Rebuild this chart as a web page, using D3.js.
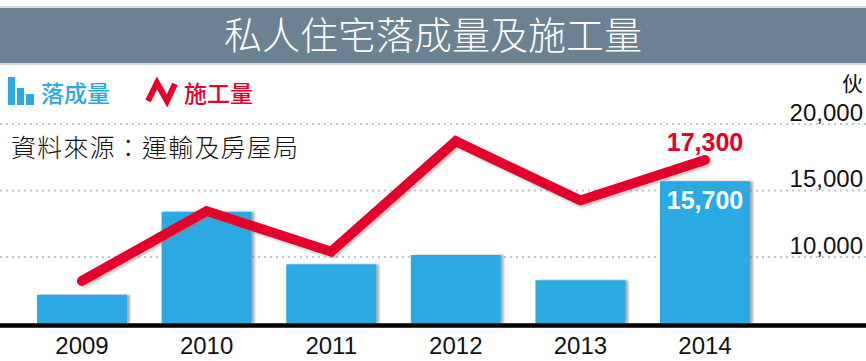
<!DOCTYPE html>
<html>
<head>
<meta charset="utf-8">
<script src="https://cdn.jsdelivr.net/npm/d3@7"></script>
<style>
  html, body { margin: 0; padding: 0; background: #fff; }
  svg { display: block; }
</style>
</head>
<body>
<svg id="chart" width="866" height="361"></svg>
<script>
const title = "私人住宅落成量及施工量";
const source = "資料來源：運輸及房屋局";
const years = ["2009", "2010", "2011", "2012", "2013", "2014"];
const completions = [7160, 13400, 9450, 10150, 8250, 15700];
const starts = [8200, 13450, 10400, 18700, 14250, 17300];
const yTicks = [10000, 15000, 20000];
const seriesNames = ["落成量", "施工量"];
const unit = "伙";
const lastCompletionLabel = "15,700";
const lastStartLabel = "17,300";

const blue = "#2aa9e2", red = "#e4002b";
const svg = d3.select("#chart");
const defs = svg.append("defs");
const f1 = defs.append("filter").attr("id", "barShadow").attr("x", "-10%").attr("y", "-10%").attr("width", "130%").attr("height", "120%");
f1.append("feDropShadow").attr("dx", 3).attr("dy", 0).attr("stdDeviation", 1).attr("flood-color", "#777").attr("flood-opacity", 0.6);
const f2 = defs.append("filter").attr("id", "lineShadow").attr("x", "-10%").attr("y", "-20%").attr("width", "130%").attr("height", "150%");
f2.append("feDropShadow").attr("dx", 2).attr("dy", 2).attr("stdDeviation", 1.2).attr("flood-color", "#888").attr("flood-opacity", 0.45);

// Title bar
svg.append("rect").attr("x", 0).attr("y", 6).attr("width", 866).attr("height", 59).attr("fill", "#d5dde2");
svg.append("rect").attr("x", 0).attr("y", 8).attr("width", 866).attr("height", 55).attr("fill", "#6a8291");
svg.append("text").attr("x", 433).attr("y", 49).attr("text-anchor", "middle")
  .attr("font-family", "'Noto Sans CJK TC', 'Noto Sans CJK SC', sans-serif")
  .attr("font-size", 38).attr("font-weight", 300).attr("fill", "#fff").text(title);

// Scales
const x = d3.scaleBand().domain(years).range([19.7, 767.3]).paddingInner(0.278).paddingOuter(0.139);
const y = d3.scaleLinear().domain([5000, 20000]).range([323.5, 124]);

// Gridlines
svg.append("g").selectAll("line").data(yTicks).join("line")
  .attr("x1", 0).attr("x2", 866)
  .attr("y1", d => y(d)).attr("y2", d => y(d))
  .attr("stroke", "#b9c9d8").attr("stroke-width", 2).attr("stroke-dasharray", "2,4");

// Right axis labels
const yAxis = d3.axisLeft(y).tickValues(yTicks).tickSize(0).tickFormat(d3.format(","));
const gy = svg.append("g").attr("transform", "translate(863,0)").call(yAxis);
gy.select(".domain").remove();
gy.selectAll("text").attr("font-family", "'Liberation Sans', Arial, sans-serif")
  .attr("font-size", 24).attr("fill", "#111").attr("x", 0).attr("dy", -4);
svg.append("text").attr("x", 863).attr("y", 91).attr("text-anchor", "end")
  .attr("font-family", "'Noto Sans CJK TC', sans-serif").attr("font-size", 21).attr("fill", "#111").text(unit);

// Bars
svg.append("g").selectAll("rect").data(completions).join("rect")
  .attr("x", (d, i) => x(years[i])).attr("width", x.bandwidth())
  .attr("y", d => y(d)).attr("height", d => y(5000) - y(d))
  .attr("fill", blue).attr("filter", "url(#barShadow)");

// Line
const line = d3.line().x((d, i) => x(years[i]) + x.bandwidth() / 2).y(d => y(d));
svg.append("path").datum(starts).attr("d", line)
  .attr("fill", "none").attr("stroke", red).attr("stroke-width", 10)
  .attr("stroke-linejoin", "miter").attr("stroke-linecap", "round").attr("filter", "url(#lineShadow)");

// Baseline axis
const xAxis = d3.axisBottom(x).tickSize(0).tickPadding(11);
const gx = svg.append("g").attr("transform", `translate(0,${y(5000) + 2})`).call(xAxis);
gx.select(".domain").remove();
gx.selectAll("text").attr("font-family", "'Liberation Sans', Arial, sans-serif").attr("font-size", 24).attr("fill", "#111");
svg.append("line").attr("x1", 0).attr("x2", 866).attr("y1", y(5000) + 2).attr("y2", y(5000) + 2)
  .attr("stroke", "#000").attr("stroke-width", 4.5);

// Value labels
const lastX = x(years[5]) + x.bandwidth() / 2;
svg.append("text").attr("x", lastX).attr("y", y(starts[5]) - 9).attr("text-anchor", "middle")
  .attr("font-family", "'Liberation Sans', Arial, sans-serif").attr("font-weight", "bold")
  .attr("font-size", 25).attr("fill", red).text(lastStartLabel);
svg.append("text").attr("x", lastX).attr("y", y(completions[5]) + 28).attr("text-anchor", "middle")
  .attr("font-family", "'Liberation Sans', Arial, sans-serif").attr("font-weight", "bold")
  .attr("font-size", 25).attr("fill", "#fff").text(lastCompletionLabel);

// Legend
const lg = svg.append("g");
lg.append("rect").attr("x", 8).attr("y", 77).attr("width", 7).attr("height", 28).attr("fill", blue);
lg.append("rect").attr("x", 17).attr("y", 88).attr("width", 7).attr("height", 17).attr("fill", blue);
lg.append("rect").attr("x", 26).attr("y", 94).attr("width", 8).attr("height", 11).attr("fill", blue);
lg.append("text").attr("x", 41).attr("y", 102).attr("font-family", "'Noto Sans CJK TC', sans-serif")
  .attr("font-size", 23).attr("font-weight", 500).attr("fill", blue).text(seriesNames[0]);
lg.append("path").attr("d", "M148,101 L157,83 L167,101 L175,84")
  .attr("fill", "none").attr("stroke", red).attr("stroke-width", 6).attr("stroke-linejoin", "miter");
lg.append("text").attr("x", 184).attr("y", 102).attr("font-family", "'Noto Sans CJK TC', sans-serif")
  .attr("font-size", 23).attr("font-weight", 500).attr("fill", red).text(seriesNames[1]);

// Source
svg.append("text").attr("x", 11).attr("y", 157).attr("font-family", "'Noto Sans CJK TC', sans-serif")
  .attr("font-size", 25).attr("font-weight", 300).attr("letter-spacing", 1.2).attr("fill", "#111").text(source);
</script>
</body>
</html>
